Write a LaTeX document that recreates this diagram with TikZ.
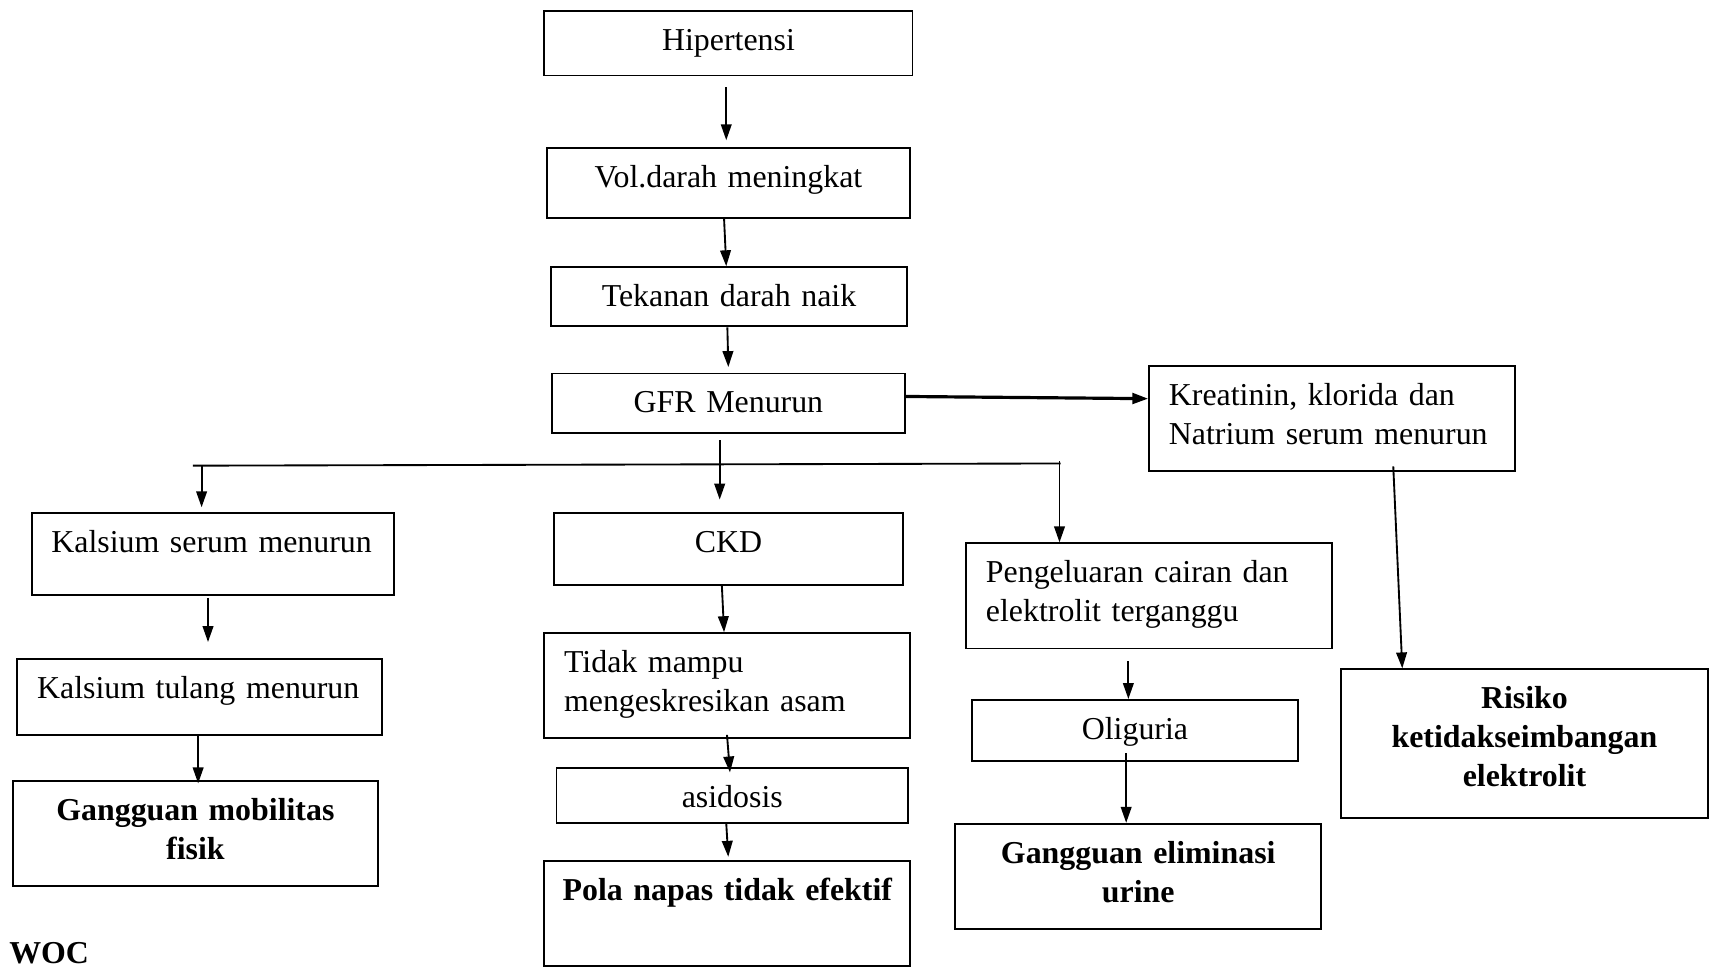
\documentclass[tikz,border=0pt]{standalone}
\usepackage{fontspec}
\setmainfont{Liberation Serif}
\usetikzlibrary{arrows.meta}
\newlength\unitpx
\setlength\unitpx{0.0145cm}
\tikzset{
lbox/.style 2 args={draw, line width=0.7pt, anchor=north west, align=left,
  inner ysep=0pt, inner xsep=18\unitpx, text width=#1\unitpx,
  text height=36\unitpx, text depth=#2\unitpx,
  font=\fontsize{12}{14.6}\selectfont},
cbox/.style 2 args={draw, line width=0.7pt, anchor=north west, align=center,
  inner ysep=0pt, inner xsep=8\unitpx, text width=#1\unitpx,
  text height=36\unitpx, text depth=#2\unitpx,
  font=\fontsize{12}{14.6}\selectfont},
bbox/.style 2 args={cbox={#1}{#2}, font=\fontsize{12}{14.6}\selectfont\bfseries},
arr/.style={-{Triangle[length=6pt,width=4pt]}, line width=0.7pt},
busline/.style={line width=0.7pt}
}
\begin{document}
\begin{tikzpicture}[x=0.0145cm, y=-0.0145cm]
\useasboundingbox (0,0) rectangle (1568,885);
\node[cbox={320}{23}] (hip) at (496,9) {Hipertensi};
\node[cbox={316}{28}] (vol) at (498,134) {Vol.darah meningkat};
\node[cbox={309}{18}] (tek) at (502,243) {Tekanan darah naik};
\node[cbox={306}{18}] (gfr) at (503,340) {GFR Menurun};
\node[lbox={298}{60}] (kre) at (1048,333) {Kreatinin, klorida dan\\Natrium serum menurun};
\node[lbox={295}{39}] (kss) at (28,467) {Kalsium serum menurun};
\node[cbox={302}{30}] (ckd) at (505,467) {CKD};
\node[lbox={298}{60}] (pen) at (881,495) {Pengeluaran cairan dan\\elektrolit terganggu};
\node[lbox={297}{33}] (ktl) at (15,601) {Kalsium tulang menurun};
\node[lbox={298}{60}] (tdk) at (496,577) {Tidak mampu\\mengeskresikan asam};
\node[cbox={282}{20}] (oli) at (886,638) {Oliguria};
\node[bbox={319}{100}] (ris) at (1223,610) {Risiko\\ketidakseimbangan\\elektrolit};
\node[bbox={317}{60}] (gmf) at (11,712) {Gangguan mobilitas\\fisik};
\node[cbox={305}{14}] (asi) at (507,700) {asidosis};
\node[bbox={318}{60}] (gel) at (871,751) {Gangguan eliminasi\\urine};
\node[bbox={318}{60}] (pol) at (496,785) {Pola napas tidak efektif};
\node[anchor=base west, inner sep=0pt, font=\fontsize{12}{14.6}\selectfont\bfseries] (woc) at (8,879) {WOC};

\draw[arr, shorten <=10\unitpx, shorten >=6\unitpx] ([xshift=-2\unitpx]hip.south) -- ([xshift=-2\unitpx]vol.north);
\draw[arr] ([xshift=-4\unitpx]vol.south) -- ([xshift=-2.5\unitpx]tek.north);
\draw[arr, shorten >=5\unitpx] ([xshift=-1.5\unitpx]tek.south) -- (gfr.north);
\draw[arr, line width=1.2pt] ([yshift=6\unitpx]gfr.east) -- ([yshift=18\unitpx]kre.west);
\draw[arr, shorten <=6\unitpx, shorten >=11\unitpx] ([xshift=-8\unitpx]gfr.south) -- ([xshift=-8\unitpx]ckd.north);
\coordinate (busL) at (176,425);
\coordinate (busR) at (968,423);
\draw[busline] (busL) -- (busR);
\coordinate (dropL) at (184,425);
\coordinate (dropR) at (967,421);
\draw[arr, shorten >=4\unitpx] (dropL) -- (dropL |- kss.north);
\draw[arr] (dropR) -- (dropR |- pen.north);
\draw[arr, shorten <=-5\unitpx] ([xshift=56\unitpx]kre.south) -- ([xshift=-111.5\unitpx]ris.north);
\draw[arr, shorten <=2\unitpx, shorten >=15\unitpx] ([xshift=-4.5\unitpx]kss.south) -- ([xshift=7.5\unitpx]ktl.north);
\draw[arr, shorten >=-3\unitpx] ([xshift=-1.5\unitpx]ktl.south) -- ([xshift=2.5\unitpx]gmf.north);
\draw[arr] ([xshift=-6\unitpx]ckd.south) -- ([xshift=-3\unitpx]tdk.north);
\draw[arr, shorten <=-4\unitpx, shorten >=-5\unitpx] (tdk.south) -- ([xshift=-2.5\unitpx]asi.north);
\draw[arr, shorten >=3\unitpx] ([xshift=-5.5\unitpx]asi.south) -- ([xshift=1\unitpx]pol.north);
\draw[arr, shorten <=11\unitpx] ([xshift=-19\unitpx]pen.south) -- ([xshift=-6\unitpx]oli.north);
\draw[arr, shorten <=-8\unitpx] ([xshift=-8\unitpx]oli.south) -- ([xshift=-11\unitpx]gel.north);
\end{tikzpicture}
\end{document}
